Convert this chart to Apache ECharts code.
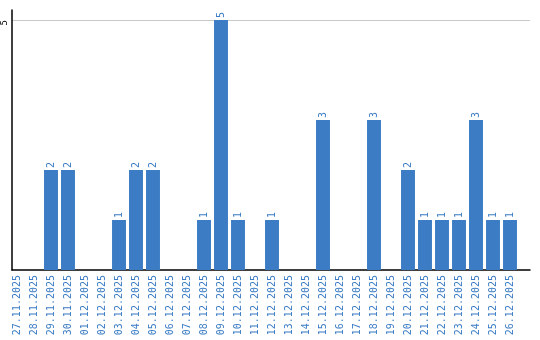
<!DOCTYPE html>
<html><head><meta charset="utf-8">
<script src="https://cdn.jsdelivr.net/npm/echarts@6/dist/echarts.min.js"></script>
<style>html,body{margin:0;padding:0;background:#fff}#c{width:540px;height:340px}</style>
</head><body><div id="c"></div>
<script>
const categories = ["27.11.2025","28.11.2025","29.11.2025","30.11.2025","01.12.2025","02.12.2025","03.12.2025","04.12.2025","05.12.2025","06.12.2025","07.12.2025","08.12.2025","09.12.2025","10.12.2025","11.12.2025","12.12.2025","13.12.2025","14.12.2025","15.12.2025","16.12.2025","17.12.2025","18.12.2025","19.12.2025","20.12.2025","21.12.2025","22.12.2025","23.12.2025","24.12.2025","25.12.2025","26.12.2025"];
const values = [0,0,2,2,0,0,1,2,2,0,0,1,5,1,0,1,0,0,3,0,0,3,0,2,1,1,1,3,1,1];
const yTicks = [5];
const blue = '#3b7cc4';
const font = 'DejaVu Sans Mono';
const chart = echarts.init(document.getElementById('c'), null, {renderer:'canvas'});
chart.setOption({
  animation:false,
  grid:[
    {left:10,right:10,top:10,bottom:70,containLabel:false},
    {left:8.5,right:21.5,top:10,bottom:70,containLabel:false}
  ],
  xAxis:[
    {type:'value',gridIndex:0,min:0,max:1,
      axisLine:{show:true,lineStyle:{color:'#000',width:1.5}},
      axisTick:{show:false},axisLabel:{show:false},splitLine:{show:false}},
    {type:'category',gridIndex:1,data:categories,
      axisLine:{show:false},axisTick:{show:false},
      axisLabel:{rotate:90,color:blue,fontFamily:font,fontSize:10,interval:0,margin:5}}
  ],
  yAxis:[
    {type:'value',gridIndex:0,min:0,max:5.2,
      axisLine:{show:true,lineStyle:{color:'#000',width:1.5}},
      axisTick:{show:false,customValues:yTicks},
      axisLabel:{customValues:yTicks,rotate:90,align:'right',verticalAlign:'bottom',color:'#000',fontFamily:font,fontSize:9,margin:3},
      splitLine:{show:true,lineStyle:{color:'#c8c8c8',width:1}}},
    {type:'value',gridIndex:1,min:0,max:5.2,show:false,splitLine:{show:false}}
  ],
  series:[{type:'bar',xAxisIndex:1,yAxisIndex:1,data:values,barCategoryGap:'18%',itemStyle:{color:blue},
    label:{show:true,position:'top',rotate:90,align:'left',verticalAlign:'middle',distance:2,color:blue,fontFamily:font,fontSize:10,
      formatter:p=>p.value>0?String(p.value):''}}]
});
</script></body></html>
